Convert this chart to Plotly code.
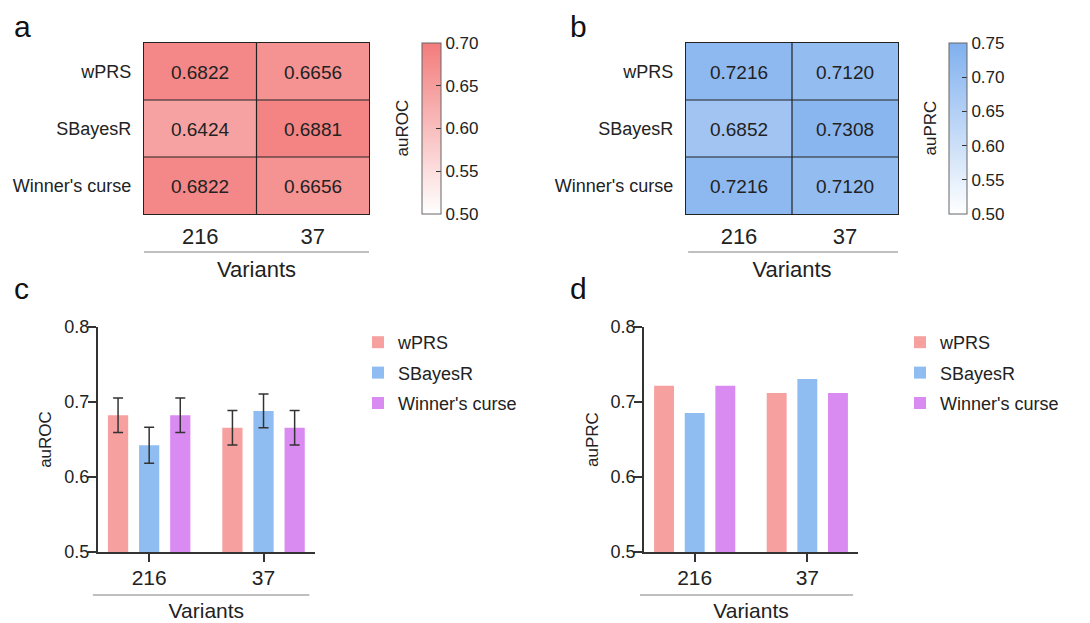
import plotly.graph_objects as go

# ---------------- data ----------------
methods = ["wPRS", "SBayesR", "Winner's curse"]
variants = ["216", "37"]

auroc_wprs = [0.6822, 0.6656]
auroc_sbayesr = [0.6424, 0.6881]
auroc_wc = [0.6822, 0.6656]

auroc_err_wprs = [0.023, 0.023]
auroc_err_sbayesr = [0.024, 0.0225]
auroc_err_wc = [0.023, 0.023]

auprc_wprs = [0.7216, 0.7120]
auprc_sbayesr = [0.6852, 0.7308]
auprc_wc = [0.7216, 0.7120]

roc_ticks = [0.50, 0.55, 0.60, 0.65, 0.70]
prc_ticks = [0.50, 0.55, 0.60, 0.65, 0.70, 0.75]
bar_ticks = [0.5, 0.6, 0.7, 0.8]

# ---------------- style ----------------
FONT = "Arial, Liberation Sans, Helvetica, sans-serif"
W, H = 1090, 623
OFF = 8  # page body margin
bar_colors = ["#F7A0A0", "#8FBDF1", "#DA8BF2"]
red_scale = [[0, "#FFFFFF"], [1, "#F37C7C"]]
blue_scale = [[0, "#FFFFFF"], [1, "#80B0EE"]]
DARK = "#333333"


def px_x(p):
    return (p - OFF) / W


def px_y(p):
    return 1 - (p - OFF) / H


fig = go.Figure()

roc_z = [auroc_wprs, auroc_sbayesr, auroc_wc]
prc_z = [auprc_wprs, auprc_sbayesr, auprc_wc]

# heatmap a
fig.add_trace(go.Heatmap(
    z=roc_z, x=variants, y=methods, xaxis="x", yaxis="y",
    colorscale=red_scale, zmin=0.5, zmax=0.7,
    texttemplate="%{z:.4f}", textfont=dict(size=19, color="#222", family=FONT),
    hoverinfo="skip",
    colorbar=dict(
        x=px_x(422), xanchor="left", xpad=0, y=px_y(128.5), yanchor="middle", ypad=0,
        len=171 / H, lenmode="fraction", thickness=19,
        outlinecolor="#666", outlinewidth=1,
        tickvals=roc_ticks, tickformat=".2f", ticks="inside", ticklen=5, tickcolor=DARK,
        tickfont=dict(size=17, color="#222", family=FONT),
    ),
))

# heatmap b
fig.add_trace(go.Heatmap(
    z=prc_z, x=variants, y=methods, xaxis="x2", yaxis="y2",
    colorscale=blue_scale, zmin=0.5, zmax=0.75,
    texttemplate="%{z:.4f}", textfont=dict(size=19, color="#222", family=FONT),
    hoverinfo="skip",
    colorbar=dict(
        x=px_x(949), xanchor="left", xpad=0, y=px_y(128.5), yanchor="middle", ypad=0,
        len=171 / H, lenmode="fraction", thickness=18,
        outlinecolor="#666", outlinewidth=1,
        tickvals=prc_ticks, tickformat=".2f", ticks="inside", ticklen=5, tickcolor=DARK,
        tickfont=dict(size=17, color="#222", family=FONT),
    ),
))

# bars c
roc_series = [auroc_wprs, auroc_sbayesr, auroc_wc]
roc_errs = [auroc_err_wprs, auroc_err_sbayesr, auroc_err_wc]
for i, (name, vals, err) in enumerate(zip(methods, roc_series, roc_errs)):
    fig.add_trace(go.Bar(
        x=variants, y=vals, name=name, xaxis="x3", yaxis="y3",
        marker=dict(color=bar_colors[i], line=dict(width=0)),
        error_y=dict(type="data", array=err, color=DARK, thickness=1.5, width=5),
        legend="legend", legendgroup="c" + str(i), hoverinfo="skip",
    ))

# bars d
prc_series = [auprc_wprs, auprc_sbayesr, auprc_wc]
for i, (name, vals) in enumerate(zip(methods, prc_series)):
    fig.add_trace(go.Bar(
        x=variants, y=vals, name=name, xaxis="x4", yaxis="y4",
        marker=dict(color=bar_colors[i], line=dict(width=0)),
        legend="legend2", legendgroup="d" + str(i), hoverinfo="skip",
    ))

heat_ydom = [px_y(214), px_y(43)]


def heat_x(dom, anchor):
    return dict(domain=dom, anchor=anchor, type="category", showline=True, mirror=True,
                linecolor="#222", linewidth=1.2, ticks="", showgrid=False, zeroline=False,
                automargin=False,
                tickfont=dict(size=22, color="#222", family=FONT), ticklabelstandoff=2,
                title=dict(text="Variants", font=dict(size=22, color="#222", family=FONT), standoff=14))


def heat_y(anchor):
    return dict(domain=heat_ydom, anchor=anchor, type="category", autorange="reversed",
                showline=True, mirror=True, linecolor="#222", linewidth=1.2, ticks="",
                showgrid=False, zeroline=False, ticklabelstandoff=8, automargin=False,
                tickfont=dict(size=18, color="#222", family=FONT))


bar_ydom = [px_y(552), px_y(327)]


def bar_x(dom, anchor):
    return dict(domain=dom, anchor=anchor, type="category", range=[-0.45, 1.45],
                showline=True, linecolor=DARK, linewidth=1.5, ticks="outside", ticklen=8,
                tickwidth=1.5, tickcolor=DARK, showgrid=False, zeroline=False,
                automargin=False,
                tickfont=dict(size=21, color="#222", family=FONT), ticklabelstandoff=-2,
                title=dict(text="Variants", font=dict(size=21, color="#222", family=FONT), standoff=15))


def bar_y(anchor, title):
    return dict(domain=bar_ydom, anchor=anchor, range=[0.5, 0.8], tickvals=bar_ticks,
                tickformat=".1f", showline=True, linecolor=DARK, linewidth=1.5,
                ticks="outside", ticklen=8, tickwidth=1.5, tickcolor=DARK,
                showgrid=False, zeroline=False, ticklabelstandoff=-5, automargin=False,
                tickfont=dict(size=18, color="#222", family=FONT),
                title=dict(text=title, font=dict(size=17, color="#222", family=FONT), standoff=8))


shapes = []
# inner heatmap grid lines
for xr, yr in (("x", "y"), ("x2", "y2")):
    shapes.append(dict(type="line", xref=xr, yref=yr + " domain", x0=0.5, x1=0.5, y0=0, y1=1,
                       line=dict(color="#222", width=1.2)))
    for yy in (0.5, 1.5):
        shapes.append(dict(type="line", xref=xr + " domain", yref=yr, x0=0, x1=1, y0=yy, y1=yy,
                           line=dict(color="#222", width=1.2)))

# grey group lines under the tick labels
GREY = "#AAAAAA"
shapes += [
    dict(type="line", xref="x domain", yref="paper", x0=0, x1=1, y0=px_y(252), y1=px_y(252),
         line=dict(color=GREY, width=1.5)),
    dict(type="line", xref="x2 domain", yref="paper", x0=0.01, x1=1.0, y0=px_y(252), y1=px_y(252),
         line=dict(color=GREY, width=1.5)),
    dict(type="line", xref="x3 domain", yref="paper", x0=-0.022, x1=0.974, y0=px_y(595), y1=px_y(595),
         line=dict(color=GREY, width=1.5)),
    dict(type="line", xref="x4 domain", yref="paper", x0=-0.019, x1=0.977, y0=px_y(595), y1=px_y(595),
         line=dict(color=GREY, width=1.5)),
]

annotations = []
for txt, x in (("a", 12), ("b", 568)):
    annotations.append(dict(text=txt, x=px_x(x), y=1, xref="paper", yref="paper",
                            xanchor="left", yanchor="top", showarrow=False,
                            font=dict(size=30, color="#111", family=FONT)))
for txt, x in (("c", 12), ("d", 568)):
    annotations.append(dict(text=txt, x=px_x(x), y=px_y(288), xref="paper", yref="paper",
                            xanchor="left", yanchor="middle", showarrow=False,
                            font=dict(size=30, color="#111", family=FONT)))
for txt, x in (("auROC", 402), ("auPRC", 930)):
    annotations.append(dict(text=txt, x=px_x(x), y=px_y(128.5), xref="paper", yref="paper",
                            xanchor="center", yanchor="middle", textangle=-90, showarrow=False,
                            font=dict(size=17, color="#222", family=FONT)))

legend_common = dict(xanchor="left", yanchor="top", bgcolor="rgba(0,0,0,0)", borderwidth=0,
                     traceorder="grouped", tracegroupgap=4, itemwidth=30,
                     font=dict(size=18, color="#222", family=FONT))

fig.update_layout(
    template="none",
    width=W, height=H,
    margin=dict(l=0, r=0, t=0, b=0, autoexpand=False),
    paper_bgcolor="white", plot_bgcolor="white",
    font=dict(family=FONT, color="#222"),
    barmode="group", bargap=0.184, bargroupgap=0.35,
    xaxis=heat_x([px_x(144), px_x(369)], "y"),
    yaxis=heat_y("x"),
    xaxis2=heat_x([px_x(686), px_x(898)], "y2"),
    yaxis2=heat_y("x2"),
    xaxis3=bar_x([px_x(97.7), px_x(315)], "y3"),
    yaxis3=bar_y("x3", "auROC"),
    xaxis4=bar_x([px_x(644), px_x(858)], "y4"),
    yaxis4=bar_y("x4", "auPRC"),
    legend=dict(x=px_x(358), y=px_y(324), **legend_common),
    legend2=dict(x=px_x(900), y=px_y(324), **legend_common),
    shapes=shapes,
    annotations=annotations,
    showlegend=True,
)

fig.write_html("out.html")
